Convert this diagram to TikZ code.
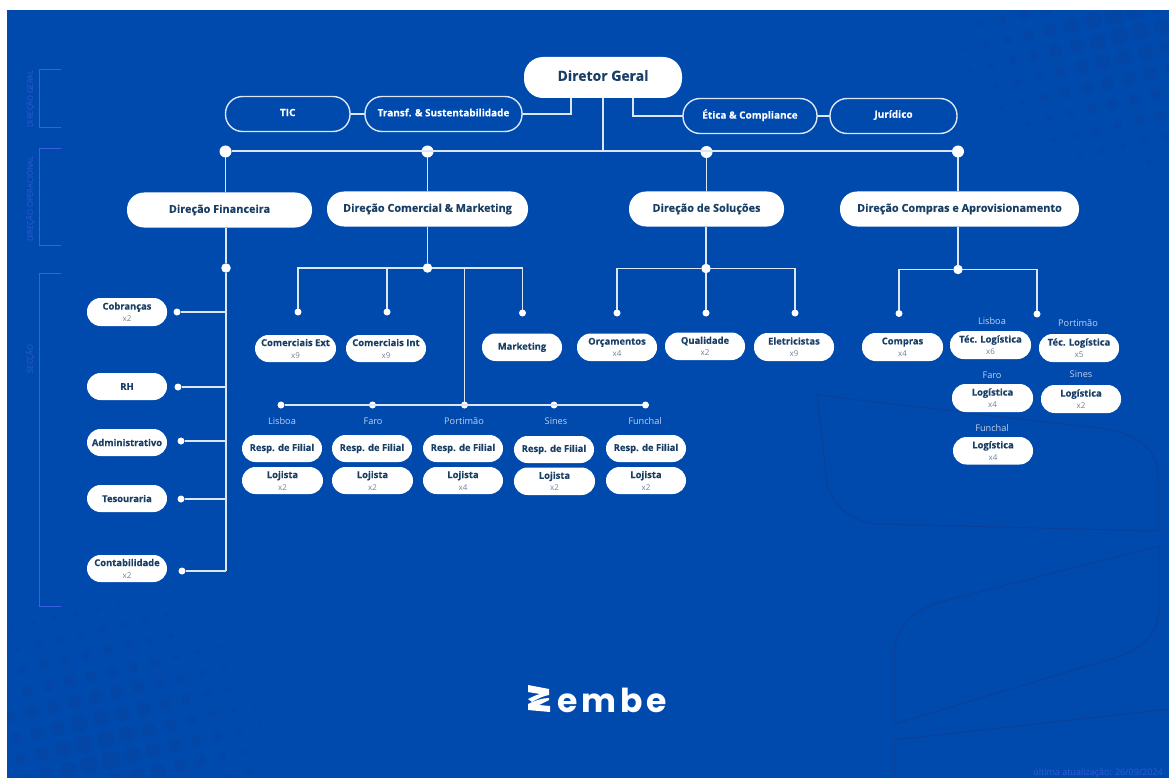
\documentclass[tikz,border=0pt]{standalone}
\usepackage{fontspec}
\setmainfont{Open Sans}[BoldFeatures={FakeBold=0.2}]
\newfontfamily\logofont[LetterSpace=12]{Poppins}
\definecolor{bgblue}{HTML}{004AAD}
\definecolor{navy}{HTML}{1A3F66}
\definecolor{subgrey}{HTML}{6F8296}
\definecolor{bracket}{HTML}{3A5FE0}
\definecolor{bracktxt}{HTML}{2F5AD6}
\definecolor{wmark}{HTML}{0B4099}
\definecolor{hdot}{HTML}{0346A6}
\definecolor{linew}{HTML}{DDE6F4}
\definecolor{loc}{HTML}{BFD0EC}
\newcommand{\subx}[1]{{\fontsize{8}{12}\selectfont\mdseries\color{subgrey}#1}}
\tikzset{
 boxbase/.style={inner sep=0pt,outer sep=0pt,align=center},
 topfill/.style={boxbase,fill=white,text=navy,rounded corners=19pt,font=\fontsize{14}{16}\selectfont\bfseries},
 dirfill/.style={boxbase,fill=white,text=navy,rounded corners=17pt,font=\fontsize{10.9}{14}\selectfont\bfseries},
 outl/.style={boxbase,draw=linew,line width=1.4pt,text=white,rounded corners=17pt,font=\fontsize{10}{12}\selectfont\bfseries},
 small/.style={boxbase,fill=white,text=navy,rounded corners=13.5pt,font=\fontsize{9.4}{12}\selectfont\bfseries},
 bigdot/.style={circle,fill=white,inner sep=0pt,minimum size=12pt,outer sep=0pt},
 middot/.style={circle,fill=white,inner sep=0pt,minimum size=9.5pt,outer sep=0pt},
 enddot/.style={circle,fill=white,inner sep=0pt,minimum size=7pt,outer sep=0pt},
 bus/.style={draw=linew,line width=2pt},
 conn/.style={draw=linew,line width=1.5pt},
 locat/.style={inner sep=0pt,text=loc,font=\fontsize{9.2}{10}\selectfont},
 sect/.style={draw=bracket,line width=1pt},
 secttxt/.style={inner sep=0pt,rotate=90,text=bracktxt,font=\fontsize{7.6}{9}\selectfont},
 wm/.style={draw=wmark,line width=1pt},
}
% \bx{style}{name}{x1}{y1}{x2}{y2}{text}
\newcommand{\bx}[7]{\node[#1,minimum width={(#5-#3)*1pt},minimum height={(#6-#4)*1pt}] (#2) at ({(#3+#5)/2},{(#4+#6)/2}) {#7};}
\newcommand{\halftone}[4]{%
 \foreach \i in {-13,...,13}{\foreach \j in {-13,...,13}{%
  \pgfmathsetmacro{\px}{#1+\i*21.3+\j*5}%
  \pgfmathsetmacro{\py}{#2-\i*4.9+\j*21}%
  \pgfmathsetmacro{\rr}{10*(1-veclen(\px-#3,\py-#4)/200)}%
  \ifdim\rr pt>0.4pt \fill[hdot] (\px,\py) circle[radius=\rr];\fi
 }}}
\begin{document}
\begin{tikzpicture}[x=1pt,y=-1pt]
\useasboundingbox (0,0) rectangle (1169,778);
\fill[bgblue] (0,0) rectangle (1169,778);
\halftone{20.7}{759}{103}{760}
\halftone{1024}{14}{1120}{10}
\fill[white] (0,0) rectangle (1169,10);
\fill[white] (0,0) rectangle (7,778);
\draw[wm] (817,395) -- (1105,429) .. controls (1138,434) and (1158,450) .. (1158,475) -- (1158,531) -- (880,524) .. controls (848,523) and (826,500) .. (826,473) -- cycle;
\draw[wm] (1159,546) -- (1159,608) .. controls (1159,635) and (1140,650) .. (1117,657) -- (894,724) -- (894,657) .. controls (894,630) and (912,610) .. (940,602) -- cycle;
\draw[wm] (1169,709) -- (894,740) -- (894,778);
% side brackets
\draw[sect] (61,70) -- (39,70) -- (39,128) -- (61,128);
\draw[sect] (61,149) -- (39,149) -- (39,245.5) -- (61,245.5);
\draw[sect] (61,273.5) -- (39,273.5) -- (39,606) -- (61,606);
\node[secttxt] (t1) at (30.5,99) {DIREÇÃO GERAL};
\node[secttxt] (t2) at (30.5,199) {DIREÇÃO OPERACIONAL};
\node[secttxt] (t3) at (30.5,359) {SECÇÃO};
% top level
\bx{topfill}{dg}{524}{57}{682}{98}{Diretor Geral\rule[-4pt]{0pt}{0pt}}
\bx{outl}{tic}{225.5}{96.5}{350}{131.5}{TIC\rule[-3pt]{0pt}{0pt}}
\bx{outl}{transf}{365}{96.5}{522}{131.5}{Transf. \& Sustentabilidade\rule[-3pt]{0pt}{0pt}}
\bx{outl}{etica}{683}{98.5}{817}{133.5}{Ética \& Compliance\rule[-4pt]{0pt}{0pt}}
\bx{outl}{jur}{830}{98.5}{957}{133.5}{Jurídico\rule[-4pt]{0pt}{0pt}}
\coordinate (tj) at (571,98);
\coordinate (ej) at (633,98);
\coordinate (mj) at (603,98);
\draw[conn] (tic) -- (transf);
\draw[conn] (etica) -- (jur);
\draw[conn] (transf.east) -| (tj);
\draw[conn] (etica.west) -| (ej);
% bus
\node[bigdot] (b1) at (225.5,151.5) {};
\node[bigdot] (b2) at (427.5,151.5) {};
\node[bigdot] (b3) at (706.5,152) {};
\node[bigdot] (b4) at (958,151.5) {};
\draw[bus] (b1) -- (b4);
\draw[conn] (mj) -- (mj |- b1);
% directions
\bx{dirfill}{df}{127}{192.5}{312}{227.5}{Direção Financeira}
\bx{dirfill}{dc}{327}{191.5}{528}{226.5}{Direção Comercial \& Marketing}
\bx{dirfill}{ds}{629}{191.5}{784}{226.5}{Direção de Soluções}
\bx{dirfill}{dp}{840}{191.5}{1079}{226.5}{Direção Compras e Aprovisionamento}
\draw[conn] (b1) -- (b1 |- df.north);
\draw[conn] (b2) -- (b2 |- dc.north);
\draw[conn] (b3) -- (b3 |- ds.north);
\draw[conn] (b4) -- (b4 |- dp.north);
% Financeira
\node[middot] (jf) at (226,268) {};
\coordinate (fe) at (226,571);
\draw[conn] (jf |- df.south) -- (jf);
\draw[conn] (jf) -- (fe);
\bx{small}{cob}{87}{298}{167}{326}{Cobranças\\\subx{x2}}
\bx{small}{rh}{87}{373}{167}{400}{RH}
\bx{small}{adm}{87}{429}{167}{456}{Administrativo}
\bx{small}{tes}{87}{485}{167}{512}{Tesouraria}
\bx{small}{con}{87}{555}{167}{582}{Contabilidade\\\subx{x2}}
\node[enddot] (f1) at (177,312) {};
\node[enddot] (f2) at (178,387) {};
\node[enddot] (f3) at (181,441) {};
\node[enddot] (f4) at (181,499) {};
\node[enddot] (f5) at (182,571) {};
\draw[conn] (f1) -- (f1 -| jf);
\draw[conn] (f2) -- (f2 -| jf);
\draw[conn] (f3) -- (f3 -| jf);
\draw[conn] (f4) -- (f4 -| jf);
\draw[conn] (f5) -- (fe);
% Comercial
\node[middot] (jc) at (427.5,268) {};
\draw[conn] (b2 |- dc.south) -- (jc);
\node[enddot] (c1) at (298,312) {};
\node[enddot] (c2) at (387,312) {};
\node[enddot] (c3) at (522.5,313) {};
\draw[conn] (jc) -| (c1);
\draw[conn] (jc) -| (c2);
\draw[conn] (jc) -| (c3);
\bx{small}{cext}{255}{335}{336}{362}{Comerciais Ext\\\subx{x9}}
\bx{small}{cint}{346}{335}{426}{362}{Comerciais Int\\\subx{x9}}
\bx{small}{mkt}{482}{333.5}{562}{361}{Marketing}
\node[enddot] (l1) at (281,405) {};
\node[enddot] (l2) at (372.5,405) {};
\node[enddot] (l3) at (464.5,405) {};
\node[enddot] (l4) at (554,405) {};
\node[enddot] (l5) at (645.5,405) {};
\draw[conn] (l1) -- (l5);
\draw[conn] (jc) -| (l3);
\node[locat] (ll1) at (282,421) {Lisboa};
\node[locat] (ll2) at (373,421) {Faro};
\node[locat] (ll3) at (464,421) {Portimão};
\node[locat] (ll4) at (556,421) {Sines};
\node[locat] (ll5) at (645,421) {Funchal};
\bx{small}{r1}{242}{435}{322}{462}{Resp. de Filial}
\bx{small}{r2}{332}{435}{412}{462}{Resp. de Filial}
\bx{small}{r3}{423}{435}{503}{462}{Resp. de Filial}
\bx{small}{r4}{514}{436}{594}{463}{Resp. de Filial}
\bx{small}{r5}{606}{435}{686}{462}{Resp. de Filial}
\bx{small}{q1}{242}{467}{323}{494}{Lojista\\\subx{x2}}
\bx{small}{q2}{332}{467}{413}{494}{Lojista\\\subx{x2}}
\bx{small}{q3}{423}{467}{503}{494}{Lojista\\\subx{x4}}
\bx{small}{q4}{514}{467.5}{595}{495}{Lojista\\\subx{x2}}
\bx{small}{q5}{606}{467}{686}{494}{Lojista\\\subx{x2}}
% Solucoes
\node[middot] (js) at (706,268.5) {};
\draw[conn] (js |- ds.south) -- (js);
\node[enddot] (s1) at (617,313) {};
\node[enddot] (s2) at (706,313) {};
\node[enddot] (s3) at (795,313) {};
\draw[conn] (js) -| (s1);
\draw[conn] (js) -- (s2);
\draw[conn] (js) -| (s3);
\bx{small}{orc}{577}{333.5}{657}{361}{Orçamentos\\\subx{x4}}
\bx{small}{qua}{665}{332.5}{745}{360}{Qualidade\\\subx{x2}}
\bx{small}{ele}{754}{333}{834}{361}{Eletricistas\\\subx{x9}}
% Compras
\node[middot] (jp) at (958,269.5) {};
\draw[conn] (b4 |- dp.south) -- (jp);
\node[enddot] (p1) at (899,313.5) {};
\node[enddot] (p2) at (1037,314) {};
\draw[conn] (jp) -| (p1);
\draw[conn] (jp) -| (p2);
\bx{small}{com}{862}{333}{943}{361}{Compras\\\subx{x4}}
\node[locat] (m1) at (992,321) {Lisboa};
\bx{small}{t1b}{950}{331}{1031}{359}{Téc. Logística\\\subx{x6}}
\node[locat] (m2) at (1078,323) {Portimão};
\bx{small}{t2b}{1039}{334}{1119}{362}{Téc. Logística\\\subx{x5}}
\node[locat] (m3) at (992,375) {Faro};
\bx{small}{t3b}{952}{384}{1033}{412}{Logística\\\subx{x4}}
\node[locat] (m4) at (1081,374) {Sines};
\bx{small}{t4b}{1041}{385}{1121}{413}{Logística\\\subx{x2}}
\node[locat] (m5) at (992,428) {Funchal};
\bx{small}{t5b}{953}{437}{1033}{464.5}{Logística\\\subx{x4}}
% logo
\fill[white] (528,685) -- (549,689) -- (549,695) .. controls (543,696) and (537,699) .. (532,702) -- (528,699) .. controls (532,697) and (536,695) .. (540,694) -- (528,692) -- cycle;
\fill[white] (528,704) .. controls (534,701) and (542,698) .. (549,698) -- (549,700) .. controls (545,702) and (541,704) .. (539,705) -- (550,706) -- (550,712) -- (528,710) -- cycle;
\node[inner sep=0pt,anchor=base west,text=white,font=\logofont\fontsize{33}{36}\selectfont\bfseries] (logo) at (557,712) {embe};
\node[inner sep=0pt,anchor=base east,text=bracktxt,font=\fontsize{9}{10}\selectfont] (upd) at (1163,775) {última atualização: 26/09/2024};
\end{tikzpicture}
\end{document}
